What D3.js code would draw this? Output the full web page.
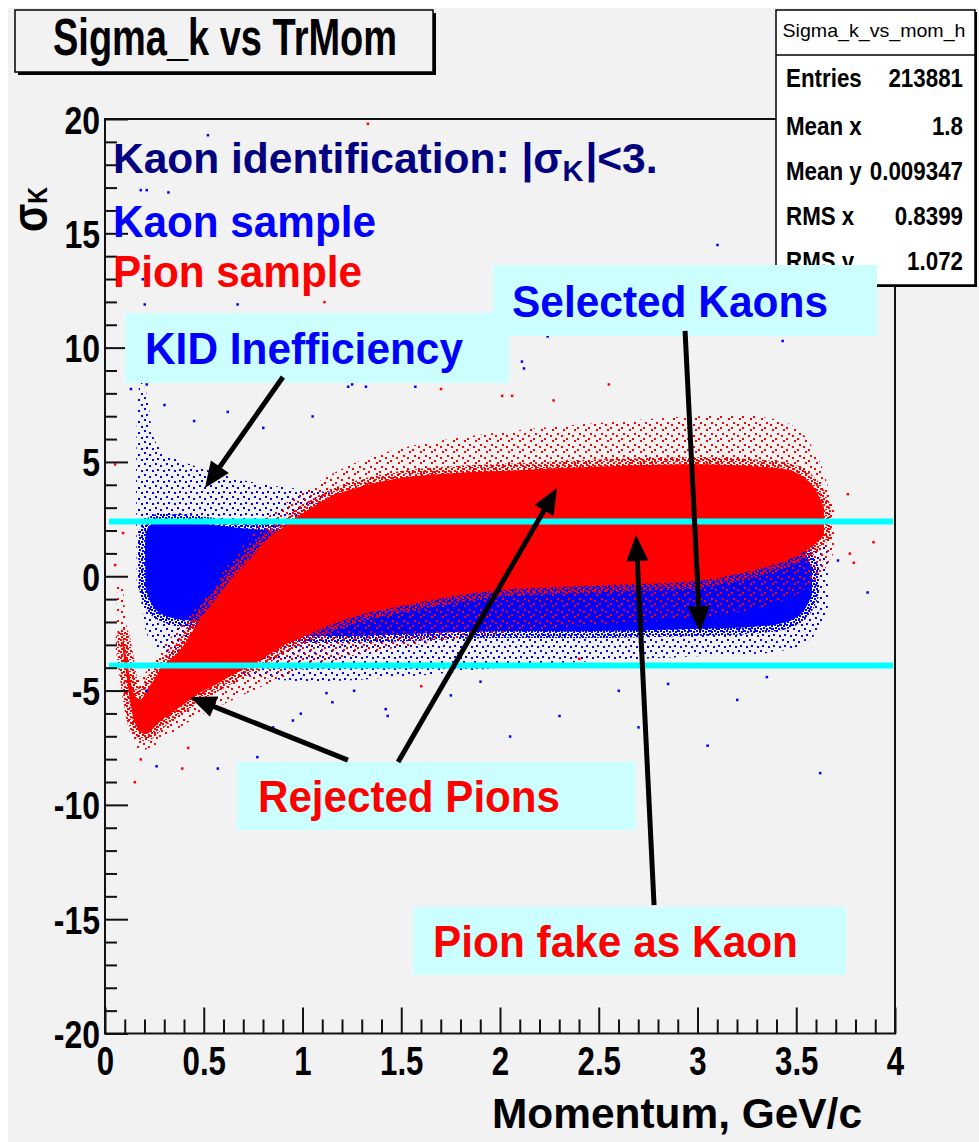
<!DOCTYPE html>
<html>
<head>
<meta charset="utf-8">
<script src="https://cdn.jsdelivr.net/npm/d3@7"></script>
<style>
  html, body { margin: 0; padding: 0; background: #fff; }
  svg { display: block; font-family: "Liberation Sans", Arial, Helvetica, sans-serif; font-weight: bold; }
</style>
</head>
<body>
<svg id="chart" width="979" height="1142"></svg>
<script>
// ---- values ----
const xTicks = [0, 0.5, 1, 1.5, 2, 2.5, 3, 3.5, 4];
const yTicks = [-20, -15, -10, -5, 0, 5, 10, 15, 20];
const cutLines = [2.4, -3.9];

// kaon sample: dense core and sparse halo envelopes (momentum, sigma_K)
const kaonCoreP  = [0.205, 0.215, 0.26, 0.33, 0.40, 0.50, 0.60, 0.70, 0.85, 1.00, 1.30, 1.60, 2.00, 2.50, 3.00, 3.30, 3.45, 3.53, 3.58];
const kaonCoreHi = [0.5, 2.1, 2.4, 2.4, 2.4, 2.3, 2.2, 2.1, 2.0, 2.0, 2.0, 2.0, 2.0, 2.0, 2.0, 1.9, 1.7, 1.2, 0.3];
const kaonCoreLo = [-0.2, -0.8, -1.5, -1.8, -1.9, -2.0, -2.1, -2.3, -2.5, -2.6, -2.6, -2.5, -2.4, -2.4, -2.3, -2.2, -2.0, -1.6, -0.8];

const kaonHaloP  = [0.16, 0.18, 0.21, 0.25, 0.30, 0.40, 0.50, 0.70, 1.00, 1.50, 2.00, 2.50, 3.00, 3.40, 3.56, 3.66];
const kaonHaloHi = [0.5, 8.5, 8.0, 6.0, 5.4, 5.0, 4.7, 4.2, 3.8, 3.4, 3.3, 3.2, 3.2, 3.0, 2.6, 1.0];
const kaonHaloLo = [-0.5, -1.0, -2.5, -3.0, -3.4, -3.8, -4.0, -4.3, -4.6, -4.4, -4.0, -3.7, -3.5, -3.3, -2.9, -1.5];

// pion sample
const pionCoreP  = [0.09, 0.11, 0.13, 0.15, 0.18, 0.21, 0.25, 0.30, 0.35, 0.40, 0.48, 0.57, 0.65, 0.74, 0.82, 0.91, 0.99, 1.15, 1.33, 1.50, 1.75, 2.00, 2.50, 3.00, 3.30, 3.48, 3.58, 3.64];
const pionCoreHi = [-2.6, -3.6, -4.6, -5.2, -5.4, -5.0, -4.5, -3.9, -3.5, -3.0, -1.9, -0.9, 0.0, 0.8, 1.6, 2.2, 2.7, 3.5, 4.0, 4.3, 4.5, 4.6, 4.8, 4.9, 4.8, 4.6, 4.0, 3.0];
const pionCoreLo = [-3.2, -4.4, -5.6, -6.4, -6.8, -6.9, -6.6, -6.2, -5.9, -5.6, -5.1, -4.7, -4.3, -3.9, -3.5, -3.0, -2.7, -2.1, -1.6, -1.3, -0.9, -0.6, -0.4, -0.2, 0.3, 0.8, 1.3, 1.8];

const pionHaloP  = [0.06, 0.08, 0.11, 0.14, 0.18, 0.25, 0.32, 0.40, 0.50, 0.65, 0.80, 1.00, 1.25, 1.50, 2.00, 2.50, 3.00, 3.30, 3.50, 3.62, 3.70];
const pionHaloHi = [-0.5, -0.3, -2.2, -4.0, -4.4, -3.6, -2.8, -2.0, -1.0, 0.8, 2.4, 3.7, 4.9, 5.6, 6.3, 6.7, 7.0, 7.0, 6.5, 5.0, 2.5];
const pionHaloLo = [-2.0, -4.2, -6.0, -7.2, -7.6, -7.4, -7.0, -6.5, -6.0, -5.4, -4.8, -4.1, -3.5, -3.1, -2.5, -2.1, -1.8, -1.4, -0.8, 0.0, 1.2];

// isolated entries
const kaonOutliers = [[0.18, 16.9], [0.21, 16.9], [0.32, 16.8], [0.52, 19.3], [0.20, 11.9], [0.67, 11.9],
  [2.11, 9.4], [2.12, 9.1], [0.13, 8.2], [0.21, 8.4], [1.23, 8.3], [1.25, 8.4], [1.32, 8.3], [1.57, 8.3],
  [2.24, 10.5], [3.43, 10.3], [3.62, -8.6], [3.10, 14.5], [0.19, 13.0], [0.18, 10.5], [0.24, 9.6],
  [0.30, 7.5], [0.45, 6.8], [0.62, 7.2], [0.80, 6.5], [1.05, 7.0], [1.42, -5.8], [1.75, -5.2], [2.30, -6.1],
  [2.60, -5.0], [3.20, -5.4], [2.05, -7.0], [0.95, -6.3], [1.15, -5.5], [2.85, -4.7], [3.35, -4.4],
  [1.90, -4.6], [0.85, -6.6], [0.99, -6.0], [1.12, -5.1], [1.26, -5.0], [1.43, -6.1], [0.77, -7.9],
  [0.57, -8.4], [0.26, -8.3], [0.21, -5.0], [3.86, -0.7], [3.71, 0.7], [2.70, -6.6], [3.05, -7.4]];
const pionOutliers = [[1.33, 19.8], [1.11, 12.0], [0.05, 4.9], [0.09, 1.9], [0.05, 0.5], [0.18, -8.0],
  [3.48, 13.8], [2.01, 7.9], [2.06, 7.9], [2.27, 7.7], [3.76, 3.6], [3.89, 1.5], [3.77, 1.0], [3.79, 0.6],
  [0.39, -8.4], [0.42, -7.5], [0.15, -9.0], [1.70, 8.2], [2.55, 8.4], [1.60, -4.8], [2.40, -3.6]];

const statNames  = ["Entries", "Mean x", "Mean y", "RMS x", "RMS y"];
const statValues = ["213881", "1.8", "0.009347", "0.8399", "1.072"];

// arrows: [fromMomentum, fromSigma, toMomentum, toSigma]
const arrows = [[0.901, 8.715, 0.506, 3.86], [2.937, 10.73, 3.013, -2.45], [1.230, -8.04, 0.430, -5.28],
  [1.484, -8.12, 2.289, 3.86], [2.780, -14.38, 2.689, 1.80]];

// ---- drawing ----
const svg = d3.select("#chart");
const bg = "#f2f2f2";
svg.append("rect").attr("x", 8).attr("y", 8).attr("width", 971).attr("height", 1134).attr("fill", bg);

const x = d3.scaleLinear().domain([0, 4]).range([105, 895]);
const y = d3.scaleLinear().domain([-20, 20]).range([1033.5, 119]);

const defs = svg.append("defs");
defs.append("clipPath").attr("id", "frame-clip")
  .append("rect").attr("x", 106).attr("y", 120).attr("width", 788).attr("height", 912);

function dotPattern(id, color, size, spots) {
  const p = defs.append("pattern").attr("id", id).attr("patternUnits", "userSpaceOnUse")
    .attr("width", size).attr("height", size);
  spots.forEach(s => p.append("rect").attr("x", s[0]).attr("y", s[1]).attr("width", 2).attr("height", 2).attr("fill", color));
}
dotPattern("kaon-sparse", "#0000ff", 11, [[1, 1], [6, 3], [3, 7], [9, 8]]);
dotPattern("kaon-dense", "#0000ff", 6, [[0, 0], [3, 1], [1, 3], [4, 4]]);
dotPattern("pion-sparse", "#ff0000", 11, [[2, 0], [7, 4], [0, 6], [5, 9]]);
dotPattern("pion-dense", "#ff0000", 6, [[1, 0], [4, 2], [0, 3], [3, 5]]);

const plot = svg.append("g").attr("clip-path", "url(#frame-clip)");

function band(P, lo, hi) {
  return d3.area()
    .x((d, i) => x(P[i]))
    .y0((d, i) => y(lo[i]))
    .y1((d, i) => y(hi[i]))
    .curve(d3.curveCatmullRom.alpha(0.5))(P);
}

function drawSample(coreP, coreLo, coreHi, haloP, haloLo, haloHi, color, name) {
  plot.append("path").attr("d", band(haloP, haloLo, haloHi)).attr("fill", `url(#${name}-sparse)`);
  const core = band(coreP, coreLo, coreHi);
  plot.append("path").attr("d", core).attr("fill", "none")
    .attr("stroke", `url(#${name}-dense)`).attr("stroke-width", 14).attr("stroke-linejoin", "round");
  plot.append("path").attr("d", core).attr("fill", color);
}
drawSample(kaonCoreP, kaonCoreLo, kaonCoreHi, kaonHaloP, kaonHaloLo, kaonHaloHi, "#0000ff", "kaon");
drawSample(pionCoreP, pionCoreLo, pionCoreHi, pionHaloP, pionHaloLo, pionHaloHi, "#ff0000", "pion");

plot.selectAll(".kout").data(kaonOutliers).enter().append("rect")
  .attr("x", d => x(d[0]) - 1).attr("y", d => y(d[1]) - 1).attr("width", 2.5).attr("height", 2.5).attr("fill", "#0000ff");
plot.selectAll(".pout").data(pionOutliers).enter().append("rect")
  .attr("x", d => x(d[0]) - 1).attr("y", d => y(d[1]) - 1).attr("width", 2.5).attr("height", 2.5).attr("fill", "#ff0000");

// selection cuts
svg.selectAll(".cut").data(cutLines).enter().append("line")
  .attr("x1", x(0.02)).attr("x2", x(3.99))
  .attr("y1", d => y(d)).attr("y2", d => y(d))
  .attr("stroke", "#00ffff").attr("stroke-width", 6);

// frame
svg.append("rect").attr("x", 105).attr("y", 119).attr("width", 790).attr("height", 914.5)
  .attr("fill", "none").attr("stroke", "#111").attr("stroke-width", 2);

// axes (ticks inside the frame, ROOT style)
const xMinor = d3.range(0, 4.001, 0.1).filter(v => Math.abs(v * 2 - Math.round(v * 2)) > 1e-6);
const yMinor = d3.range(-20, 20.001, 1).filter(v => v % 5 !== 0);

const gxMinor = svg.append("g").attr("transform", "translate(0,1033.5)")
  .call(d3.axisBottom(x).tickValues(xMinor).tickSize(-14).tickSizeOuter(0).tickFormat(""));
const gx = svg.append("g").attr("transform", "translate(0,1033.5)")
  .call(d3.axisBottom(x).tickValues(xTicks).tickSize(-26).tickSizeOuter(0).tickPadding(13)
    .tickFormat(d => String(d)));
const gyMinor = svg.append("g").attr("transform", "translate(105,0)")
  .call(d3.axisLeft(y).tickValues(yMinor).tickSize(-12).tickSizeOuter(0).tickFormat(""));
const gy = svg.append("g").attr("transform", "translate(105,0)")
  .call(d3.axisLeft(y).tickValues(yTicks).tickSize(-23).tickSizeOuter(0).tickPadding(6)
    .tickFormat(d => String(d)));

[gxMinor, gx, gyMinor, gy].forEach(g => {
  g.select(".domain").remove();
  g.selectAll(".tick line").attr("stroke", "#111").attr("stroke-width", 2);
});
gx.selectAll("text").attr("font-size", 40).attr("font-weight", "bold").attr("fill", "#000")
  .attr("font-family", "Liberation Sans, Arial, sans-serif")
  .attr("dy", "0.71em").attr("transform", "scale(0.78,1)");
gy.selectAll("text").attr("font-size", 39).attr("font-weight", "bold").attr("fill", "#000")
  .attr("font-family", "Liberation Sans, Arial, sans-serif")
  .attr("dy", "0.36em").attr("transform", "scale(0.82,1)");

// text helper
function txt(str, tx, ty, size, color, width, anchor) {
  const t = svg.append("text").attr("x", tx).attr("y", ty).attr("font-size", size)
    .attr("fill", color).attr("text-anchor", anchor || "start").text(str);
  if (width) t.attr("textLength", width).attr("lengthAdjust", "spacingAndGlyphs");
  return t;
}

// axis titles
txt("Momentum, GeV/c", 492, 1128, 42, "#000", 370);
const yt = svg.append("text").attr("transform", "translate(47,232) rotate(-90)")
  .attr("textLength", 45).attr("lengthAdjust", "spacingAndGlyphs").attr("fill", "#000");
yt.append("tspan").attr("font-size", 50).text("σ");
yt.append("tspan").attr("font-size", 28).text("K");

// title box
svg.append("rect").attr("x", 18).attr("y", 13).attr("width", 418).attr("height", 62).attr("fill", "#000");
svg.append("rect").attr("x", 15).attr("y", 10).attr("width", 418).attr("height", 62)
  .attr("fill", bg).attr("stroke", "#000").attr("stroke-width", 1.5);
txt("Sigma_k vs TrMom", 53, 55, 52, "#000", 344);

// stats box
svg.append("rect").attr("x", 778).attr("y", 12).attr("width", 199).attr("height", 275).attr("fill", "#000");
svg.append("rect").attr("x", 776).attr("y", 10).attr("width", 199).attr("height", 275)
  .attr("fill", "#fff").attr("stroke", "#000").attr("stroke-width", 1.5);
svg.append("line").attr("x1", 776).attr("x2", 975).attr("y1", 55).attr("y2", 55)
  .attr("stroke", "#000").attr("stroke-width", 1.5);
txt("Sigma_k_vs_mom_h", 874, 37, 19, "#000", 183, "middle").attr("font-weight", "normal");
const rowY = [87, 135, 180, 225, 270];
statNames.forEach((n, i) => {
  svg.append("text").attr("transform", `translate(786,${rowY[i]}) scale(0.86,1)`)
    .attr("font-size", 26).attr("fill", "#000").text(n);
  svg.append("text").attr("transform", `translate(963,${rowY[i]}) scale(0.86,1)`)
    .attr("font-size", 26).attr("fill", "#000").attr("text-anchor", "end").text(statValues[i]);
});

// legend texts
const kid = svg.append("text").attr("x", 113).attr("y", 173).attr("font-size", 42.5).attr("fill", "#000080");
kid.append("tspan").text("Kaon identification: |σ");
kid.append("tspan").attr("font-size", 29).attr("dy", 8).text("K");
kid.append("tspan").attr("dy", -8).attr("dx", 2).text("|<3.");
txt("Kaon sample", 113, 237, 44, "#0000ff", 263);
txt("Pion sample", 113, 287, 44, "#ff0000", 249);

// annotation boxes
const boxes = [
  { x0: 125, y0: 313, x1: 509, y1: 383, text: "KID Inefficiency", tx: 145, ty: 364, w: 318, color: "#0000ff" },
  { x0: 493, y0: 265, x1: 877, y1: 336, text: "Selected Kaons", tx: 512, ty: 317, w: 316, color: "#0000ff" },
  { x0: 237, y0: 762, x1: 636, y1: 830, text: "Rejected Pions", tx: 258, ty: 812, w: 302, color: "#ff0000" },
  { x0: 413, y0: 907, x1: 846, y1: 975, text: "Pion fake as Kaon", tx: 433, ty: 957, w: 365, color: "#ff0000" }
];
boxes.forEach(b => {
  svg.append("rect").attr("x", b.x0).attr("y", b.y0).attr("width", b.x1 - b.x0).attr("height", b.y1 - b.y0)
    .attr("fill", "#ccffff");
  txt(b.text, b.tx, b.ty, 44, b.color, b.w);
});

// arrows
arrows.forEach(a => {
  const x1 = x(a[0]), y1 = y(a[1]), x2 = x(a[2]), y2 = y(a[3]);
  const len = Math.hypot(x2 - x1, y2 - y1), ux = (x2 - x1) / len, uy = (y2 - y1) / len;
  const hl = 26, hw = 11;
  const bx = x2 - ux * hl, by = y2 - uy * hl;
  svg.append("line").attr("x1", x1).attr("y1", y1).attr("x2", bx + ux * 2).attr("y2", by + uy * 2)
    .attr("stroke", "#000").attr("stroke-width", 5);
  svg.append("polygon")
    .attr("points", [[x2, y2], [bx - uy * hw, by + ux * hw], [bx + uy * hw, by - ux * hw]].map(p => p.join(",")).join(" "))
    .attr("fill", "#000");
});
</script>
</body>
</html>
